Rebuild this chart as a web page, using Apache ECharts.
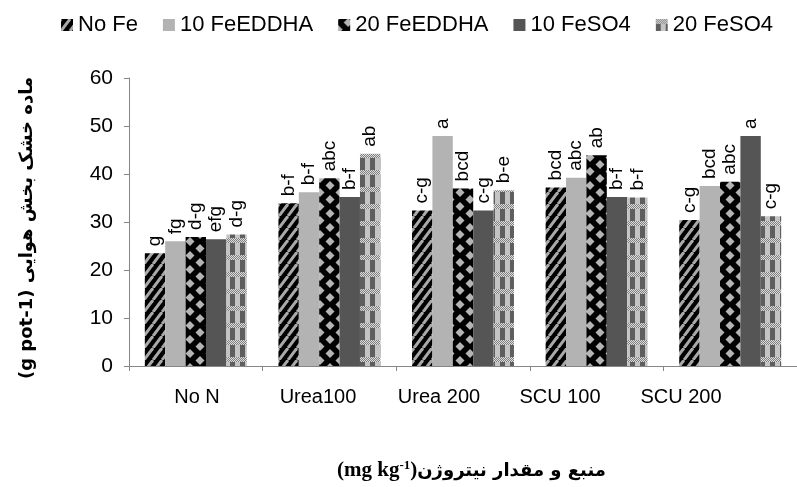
<!DOCTYPE html>
<html>
<head>
<meta charset="utf-8">
<script src="https://cdn.jsdelivr.net/npm/echarts@6/dist/echarts.min.js"></script>
<style>html,body{margin:0;padding:0;background:#fff}#c{width:797px;height:487px}</style>
</head>
<body>
<div id="c"></div>
<script>
// ---- data ----
const categories = ['No N', 'Urea100', 'Urea 200', 'SCU 100', 'SCU 200'];
const seriesNames = ['No Fe', '10 FeEDDHA', '20 FeEDDHA', '10 FeSO4', '20 FeSO4'];
const noFe      = [23.5, 33.9, 32.4, 37.2, 30.4];
const feEDDHA10 = [26.0, 36.2, 47.9, 39.2, 37.5];
const feEDDHA20 = [26.9, 39.1, 37.0, 43.9, 38.4];
const feSO4_10  = [26.4, 35.2, 32.4, 35.2, 47.9];
const feSO4_20  = [27.4, 44.2, 36.6, 35.1, 31.2];
const lettersNoFe      = ['g', 'b-f', 'c-g', 'bcd', 'c-g'];
const lettersEDDHA10   = ['fg', 'b-f', 'a', 'abc', 'bcd'];
const lettersEDDHA20   = ['d-g', 'abc', 'bcd', 'ab', 'abc'];
const lettersSO4_10    = ['efg', 'b-f', 'c-g', 'b-f', 'a'];
const lettersSO4_20    = ['d-g', 'ab', 'b-e', 'b-f', 'c-g'];
const yTicks = { min: 0, max: 60, interval: 10 };
const yTitle = '(g pot-1) ماده خشک بخش هوایی';
const xTitleArabic = 'منبع و مقدار نیتروژن';

// ---- patterns ----
function mk(w, h, draw) { const c = document.createElement('canvas'); c.width = w; c.height = h; draw(c.getContext('2d'), w, h); return c; }
const patStripes = mk(9, 12, (g, w, h) => {
  g.fillStyle = '#000'; g.fillRect(0, 0, w, h);
  g.strokeStyle = '#a9a9a9'; g.lineWidth = 3;
  for (let k = -1; k <= 1; k++) { g.beginPath(); g.moveTo(k * w, h); g.lineTo(k * w + w, 0); g.stroke(); }
});
const patDiamond = mk(20, 14, (g, w, h) => {
  g.fillStyle = '#000'; g.fillRect(0, 0, w, h);
  g.fillStyle = '#b4b4b4';
  const d = (cx, cy) => { g.beginPath(); g.moveTo(cx, cy - 4.5); g.lineTo(cx + 4.5, cy); g.lineTo(cx, cy + 4.5); g.lineTo(cx - 4.5, cy); g.closePath(); g.fill(); };
  d(10, 3.5); d(0, 10.5); d(20, 10.5); d(10, 17.5); d(0, -3.5); d(20, -3.5);
});
const patPlaid = mk(10, 17, (g, w, h) => {
  g.fillStyle = '#c4c4c4'; g.fillRect(0, 0, w, h);
  g.fillStyle = '#5e5e5e'; g.fillRect(0, 0, 5, h);
  for (let y = 0; y < 5; y++) for (let x = 0; x < w; x++) { g.fillStyle = ((x + y) % 2) ? '#dcdcdc' : '#808080'; g.fillRect(x, y, 1, 1); }
});
const fills = [
  { image: patStripes, repeat: 'repeat' },
  '#b3b3b3',
  { image: patDiamond, repeat: 'repeat' },
  '#555555',
  { image: patPlaid, repeat: 'repeat' }
];
const values = [noFe, feEDDHA10, feEDDHA20, feSO4_10, feSO4_20];
const letters = [lettersNoFe, lettersEDDHA10, lettersEDDHA20, lettersSO4_10, lettersSO4_20];

const FONT = 'Liberation Sans';
const series = seriesNames.map((name, i) => ({
  name, type: 'bar', xAxisIndex: 0, yAxisIndex: 0,
  data: values[i],
  barGap: '0%', barCategoryGap: '23.7%',
  itemStyle: { color: fills[i] },
  label: {
    show: true, position: 'top', rotate: 90, align: 'left', verticalAlign: 'middle', distance: 7,
    fontFamily: FONT, fontSize: 19, color: '#000',
    formatter: p => letters[i][p.dataIndex]
  },
  emphasis: { disabled: true }
}));

const chart = echarts.init(document.getElementById('c'), null, { renderer: 'canvas' });
chart.setOption({
  animation: false,
  backgroundColor: '#fff',
  textStyle: { fontFamily: FONT },
  legend: {
    data: seriesNames, left: 56, top: 9, itemWidth: 12, itemHeight: 12, itemGap: 25,
    icon: 'rect', textStyle: { fontFamily: FONT, fontSize: 22, color: '#000' }
  },
  title: {
    text: '{a|(mg kg}{s|-1}{a|)}{b|' + xTitleArabic + '}',
    left: 332, top: 453,
    textStyle: { rich: {
      a: { fontFamily: 'Liberation Serif', fontWeight: 'bold', fontSize: 21, color: '#000', lineHeight: 26 },
      b: { fontFamily: 'DejaVu Sans', fontWeight: 'bold', fontSize: 18, color: '#000', lineHeight: 26 },
      s: { fontFamily: 'Liberation Serif', fontWeight: 'bold', fontSize: 13, color: '#000', lineHeight: 26, padding: [0, 0, 10, 0] }
    } }
  },
  grid: [
    { left: 129, top: 78, width: 675.5, bottom: 121, containLabel: false },
    { left: 136.5, top: 78, width: 605, bottom: 121, containLabel: false }
  ],
  xAxis: [
    { type: 'category', gridIndex: 0, data: categories,
      axisLine: { lineStyle: { color: '#868686', width: 1 } },
      axisTick: { show: true, length: 5, lineStyle: { color: '#868686' } },
      axisLabel: { show: false } },
    { type: 'category', gridIndex: 1, data: categories,
      axisLine: { show: false }, axisTick: { show: false },
      axisLabel: { show: true, fontFamily: FONT, fontSize: 20, color: '#000', margin: 21 } }
  ],
  yAxis: [
    { type: 'value', gridIndex: 0, min: yTicks.min, max: yTicks.max, interval: yTicks.interval,
      splitLine: { show: false },
      axisLine: { show: true, lineStyle: { color: '#868686', width: 1 } },
      axisTick: { show: true, length: 5, lineStyle: { color: '#868686' } },
      axisLabel: { fontFamily: FONT, fontSize: 21, color: '#000', margin: 16 },
      name: yTitle, nameLocation: 'middle', nameRotate: 90, nameGap: 93,
      nameTextStyle: { fontFamily: 'DejaVu Sans', fontWeight: 'bold', fontSize: 18, color: '#000', padding: [0, 12, 0, 0] } },
    { type: 'value', gridIndex: 1, min: 0, max: 60, show: false }
  ],
  series
});
</script>
</body>
</html>
